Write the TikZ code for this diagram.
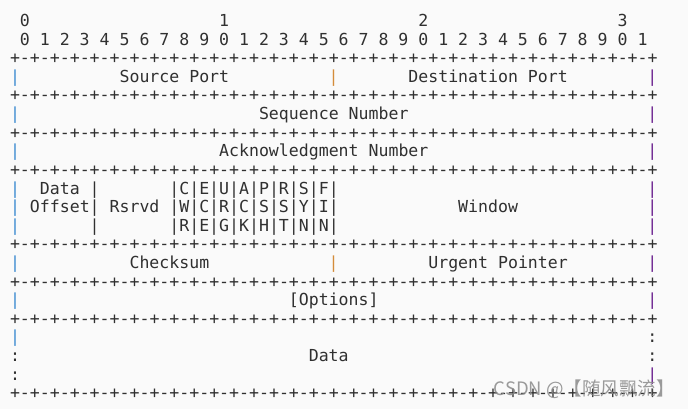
\documentclass[tikz,border=0pt]{standalone}
\usepackage{fontspec}
\setmonofont{DejaVu Sans Mono}
\newfontfamily\cjk{Noto Sans CJK SC}
\definecolor{ink}{HTML}{303030}
\definecolor{bgc}{HTML}{FAFAFA}
\definecolor{barblue}{HTML}{3A8AD0}
\definecolor{barorange}{HTML}{D48C3A}
\definecolor{barpurple}{HTML}{6A1F8E}
\definecolor{wmgray}{HTML}{8A8A8A}
\newcommand\cx[1]{10.02+9.96*(#1)}
\newcommand\ry[1]{26.6+18.6*(#1)}
\def\rq{+-+-+-+-}
\def\rul{\rq\rq\rq\rq\rq\rq\rq\rq+}
\begin{document}
\begin{tikzpicture}[x=1pt,y=-1pt,
  txt/.style={anchor=base west,inner sep=0pt,outer sep=0pt,
    font=\ttfamily\fontsize{16.55}{18}\selectfont,text=ink},
  bl/.style={txt,text=barblue},
  bo/.style={txt,text=barorange},
  bp/.style={txt,text=barpurple},
  wm/.style={anchor=east,inner sep=0pt,font=\cjk\fontsize{18.5}{20}\selectfont,text=wmgray,opacity=0.85}]
\useasboundingbox[fill=bgc] (0,0) rectangle (688,409);
% bit ruler
\node[txt] (t0) at ({\cx{1}},{\ry{0}}) {0};
\node[txt] (t1) at ({\cx{21}},{\ry{0}}) {1};
\node[txt] (t2) at ({\cx{41}},{\ry{0}}) {2};
\node[txt] (t3) at ({\cx{61}},{\ry{0}}) {3};
\foreach \i in {0,...,31}{
  \pgfmathtruncatemacro\dg{mod(\i,10)}
  \node[txt] (d\i) at ({\cx{1+2*\i}},{\ry{1}}) {\dg};
}
% separator lines
\foreach \r in {2,4,6,8,12,14,16,20}{
  \node[txt] (sep\r) at ({\cx{0}},{\ry{\r}}) {\rul};
}
% row 3
\node[bl] (l3) at ({\cx{0}},{\ry{3}}) {|};
\node[txt] (srcport) at ({\cx{11}},{\ry{3}}) {Source Port};
\node[bo] (m3) at ({\cx{32}},{\ry{3}}) {|};
\node[txt] (dstport) at ({\cx{40}},{\ry{3}}) {Destination Port};
\node[bp] (r3) at ({\cx{64}},{\ry{3}}) {|};
% row 5
\node[bl] (l5) at ({\cx{0}},{\ry{5}}) {|};
\node[txt] (seq) at ({\cx{25}},{\ry{5}}) {Sequence Number};
\node[bp] (r5) at ({\cx{64}},{\ry{5}}) {|};
% row 7
\node[bl] (l7) at ({\cx{0}},{\ry{7}}) {|};
\node[txt] (ack) at ({\cx{21}},{\ry{7}}) {Acknowledgment Number};
\node[bp] (r7) at ({\cx{64}},{\ry{7}}) {|};
% rows 9-11
\node[bl] (l9) at ({\cx{0}},{\ry{9}}) {|};
\node[txt] (data1) at ({\cx{3}},{\ry{9}}) {Data};
\node[txt] (b9) at ({\cx{8}},{\ry{9}}) {|};
\node[txt] (f9) at ({\cx{16}},{\ry{9}}) {|C|E|U|A|P|R|S|F|};
\node[bp] (r9) at ({\cx{64}},{\ry{9}}) {|};
\node[bl] (l10) at ({\cx{0}},{\ry{10}}) {|};
\node[txt] (offset) at ({\cx{2}},{\ry{10}}) {Offset|};
\node[txt] (rsrvd) at ({\cx{10}},{\ry{10}}) {Rsrvd};
\node[txt] (f10) at ({\cx{16}},{\ry{10}}) {|W|C|R|C|S|S|Y|I|};
\node[txt] (window) at ({\cx{45}},{\ry{10}}) {Window};
\node[bp] (r10) at ({\cx{64}},{\ry{10}}) {|};
\node[bl] (l11) at ({\cx{0}},{\ry{11}}) {|};
\node[txt] (b11) at ({\cx{8}},{\ry{11}}) {|};
\node[txt] (f11) at ({\cx{16}},{\ry{11}}) {|R|E|G|K|H|T|N|N|};
\node[bp] (r11) at ({\cx{64}},{\ry{11}}) {|};
% row 13
\node[bl] (l13) at ({\cx{0}},{\ry{13}}) {|};
\node[txt] (chk) at ({\cx{12}},{\ry{13}}) {Checksum};
\node[bo] (m13) at ({\cx{32}},{\ry{13}}) {|};
\node[txt] (urg) at ({\cx{42}},{\ry{13}}) {Urgent Pointer};
\node[bp] (r13) at ({\cx{64}},{\ry{13}}) {|};
% row 15
\node[bl] (l15) at ({\cx{0}},{\ry{15}}) {|};
\node[txt] (opt) at ({\cx{28}},{\ry{15}}) {[Options]};
\node[bp] (r15) at ({\cx{64}},{\ry{15}}) {|};
% rows 17-19
\node[bl] (l17) at ({\cx{0}},{\ry{17}}) {|};
\node[txt] (r17) at ({\cx{64}},{\ry{17}}) {:};
\node[txt] (l18) at ({\cx{0}},{\ry{18}}) {:};
\node[txt] (data2) at ({\cx{30}},{\ry{18}}) {Data};
\node[txt] (r18) at ({\cx{64}},{\ry{18}}) {:};
\node[txt] (l19) at ({\cx{0}},{\ry{19}}) {:};
\node[bp] (r19) at ({\cx{64}},{\ry{19}}) {|};
% watermark
\node[wm] (mark) at (675,389) {CSDN @【随风飘流】};
\end{tikzpicture}
\end{document}
